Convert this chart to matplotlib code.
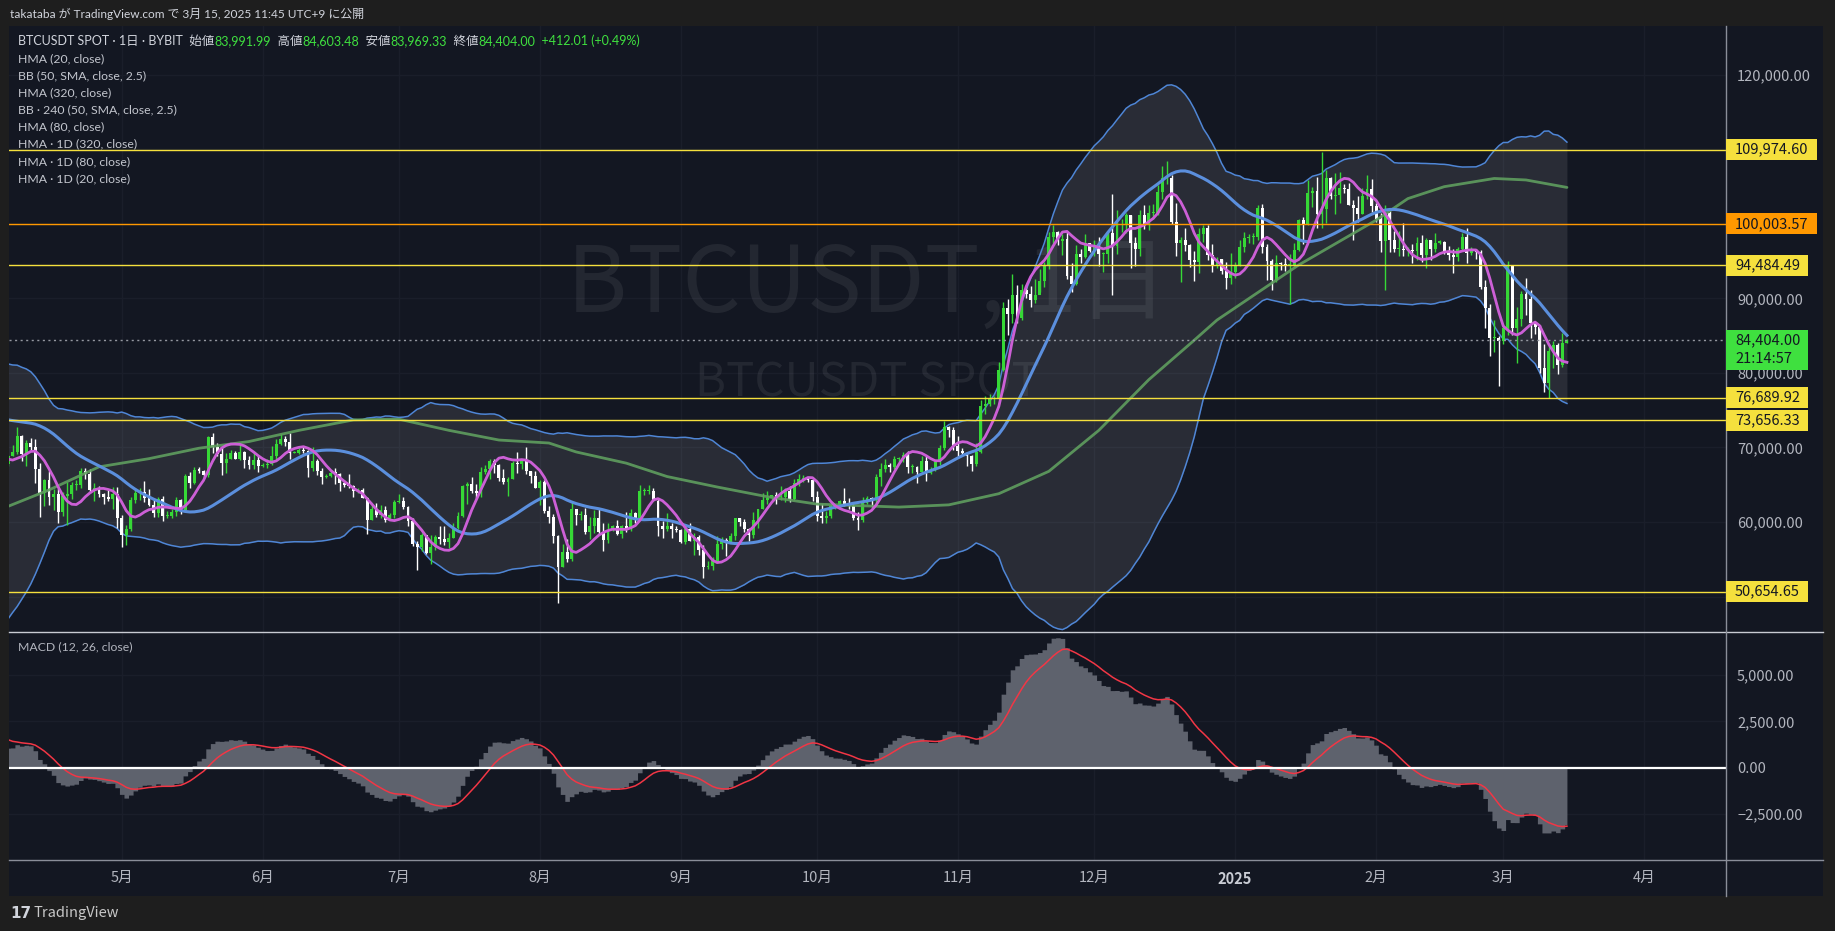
import numpy as np
import pandas as pd
import matplotlib
matplotlib.use('Agg')
import matplotlib.pyplot as plt
from matplotlib.patches import Rectangle
from matplotlib.lines import Line2D
from matplotlib.transforms import blended_transform_factory

W, H = 1835, 931
plt.rcParams['font.family'] = ['Noto Sans CJK JP', 'DejaVu Sans']
LEG_FONT = ['Lato', 'Noto Sans CJK JP', 'DejaVu Sans']

# ---------------------------------------------------------------- data
ORIGIN = '2024-05-01'          # x = days since this date
# history before the first visible candle (closes, thousand USD) - used only to warm up indicators
LEAD_START = '2024-01-08'
LEAD_CLOSE = [
    47.0, 46.1, 46.6, 46.3, 42.8, 42.8, 41.7, 42.5, 43.1, 42.7, 41.3, 41.6, 41.7, 41.6, 39.5, 39.9,
    40.1, 39.9, 41.8, 42.1, 42.0, 43.3, 42.9, 42.6,
    43.1, 43.2, 43.0, 42.6, 42.7, 43.1, 44.3, 45.3, 47.1, 47.8, 48.3, 50.0, 49.7, 51.8, 51.9, 52.1,
    51.6, 52.1, 51.8, 52.3, 51.9, 51.3, 50.7, 51.6, 51.7, 54.5, 57.1, 62.5, 61.2,
    62.4, 62.0, 63.1, 68.3, 63.8, 66.1, 66.9, 68.3, 68.5, 69.0, 72.1, 71.5, 73.1, 71.4, 69.5, 65.3,
    68.4, 67.6, 62.0, 67.9, 65.5, 63.8, 64.0, 67.2, 70.0, 69.9, 69.5, 70.8, 70.0, 69.6, 71.3,
    69.7, 65.4, 66.0, 68.5, 67.8]

START = '2024-04-06'           # first visible daily candle
CLOSE = [
    # Apr 6-30
    68.9, 69.4, 71.6, 69.1, 70.6, 70.0, 67.1, 63.9, 65.7, 63.4, 63.8, 61.3, 63.5, 63.8, 64.9, 64.9,
    66.8, 66.4, 64.3, 64.5, 63.8, 63.4, 63.1, 63.8, 60.6,
    # May
    58.3, 59.1, 62.9, 63.9, 64.0, 63.2, 62.3, 61.2, 63.1, 60.8, 60.8, 61.4, 62.9, 61.6, 66.2, 65.2,
    67.0, 66.9, 66.3, 71.4, 70.1, 69.1, 67.9, 68.5, 69.3, 68.5, 69.4, 68.3, 67.6, 68.3, 67.5,
    # Jun
    67.7, 67.8, 68.8, 70.5, 71.1, 70.8, 69.3, 69.3, 69.6, 69.5, 67.3, 68.2, 66.8, 66.0, 66.2, 66.6,
    66.5, 65.2, 64.9, 64.8, 64.1, 64.3, 63.2, 60.3, 61.8, 60.9, 61.6, 60.3, 60.9, 62.7,
    # Jul
    62.8, 62.0, 60.2, 57.0, 56.6, 58.2, 55.8, 56.7, 58.0, 57.7, 57.3, 57.9, 59.2, 60.8, 64.8, 65.1,
    64.1, 63.9, 66.7, 67.1, 68.2, 67.6, 65.9, 65.4, 65.8, 67.9, 67.8, 68.3, 66.8, 66.2, 64.6,
    # Aug
    65.4, 61.5, 60.7, 58.1, 54.0, 56.0, 55.1, 61.7, 60.9, 60.9, 58.7, 59.4, 60.6, 58.7, 57.6, 58.9,
    59.5, 58.4, 59.5, 59.0, 61.2, 60.4, 64.1, 64.2, 64.2, 62.8, 59.4, 59.0, 59.4, 59.1, 58.9,
    # Sep
    57.3, 59.1, 57.5, 58.0, 56.2, 53.9, 54.1, 54.8, 57.0, 57.6, 57.3, 58.1, 60.5, 60.0, 59.1, 58.2,
    60.3, 61.8, 62.9, 63.2, 63.6, 63.3, 63.3, 64.2, 63.1, 65.2, 65.8, 65.9, 65.6, 63.3,
    # Oct
    60.8, 60.6, 60.8, 62.1, 62.1, 62.8, 62.2, 62.1, 60.6, 60.3, 62.5, 63.2, 62.9, 66.0, 67.1, 67.6,
    67.4, 68.4, 68.4, 69.0, 67.4, 67.4, 66.7, 68.2, 66.6, 67.0, 68.0, 69.9, 72.7, 72.3, 70.2,
    # Nov
    69.5, 69.3, 68.8, 67.8, 69.4, 75.6, 75.9, 76.5, 76.7, 80.4, 88.7, 87.9, 90.5, 87.4, 91.1, 90.6,
    89.8, 90.5, 92.3, 94.3, 98.3, 98.9, 97.7, 98.0, 93.0, 91.9, 95.9, 95.6, 97.5, 96.4,
    # Dec
    97.2, 95.9, 96.0, 98.8, 97.0, 99.9, 99.9, 101.2, 97.4, 96.7, 101.2, 100.0, 101.4, 101.4, 104.3, 106.1,
    106.1, 100.2, 97.5, 97.8, 97.2, 95.2, 94.9, 98.7, 99.4, 95.8, 94.3, 95.3, 93.7, 92.8, 93.6,
    # Jan 2025
    94.4, 96.9, 98.1, 98.2, 98.3, 102.1, 96.9, 95.0, 92.5, 94.7, 94.6, 94.5, 94.5, 96.5, 100.5, 99.9,
    104.1, 104.4, 101.3, 102.0, 106.1, 103.7, 103.9, 104.8, 104.7, 102.6, 102.1, 101.3, 103.7, 104.7, 102.4,
    # Feb
    100.6, 97.7, 101.4, 97.9, 96.6, 96.6, 96.5, 96.5, 96.4, 97.4, 95.8, 97.9, 96.6, 97.5, 97.6, 96.1,
    95.8, 95.5, 96.6, 98.3, 96.1, 96.5, 96.3, 91.5, 88.7, 84.7, 84.7, 84.3,
    # Mar 1-15
    86.1, 94.3, 86.1, 87.2, 90.6, 89.9, 86.7, 86.2, 80.7, 78.6, 82.9, 83.7, 81.1, 83.99199, 84.404]

HIGH = [
    69.0, 70.3, 72.7, 71.7, 71.0, 71.3, 71.2, 67.9, 65.8, 66.9, 64.4, 64.5, 64.0, 65.4, 65.4, 65.7,
    67.2, 67.2, 67.1, 65.3, 64.8, 63.9, 64.3, 64.7, 64.7,
    60.9, 59.6, 63.3, 64.5, 64.6, 65.5, 64.4, 62.9, 63.4, 63.5, 61.5, 61.8, 63.4, 63.1, 66.4, 66.7,
    67.4, 67.4, 67.0, 71.5, 71.9, 70.6, 70.0, 69.2, 69.6, 69.5, 70.6, 69.5, 68.9, 69.5, 69.0,
    67.9, 68.4, 70.2, 71.1, 71.8, 71.6, 71.9, 69.5, 69.9, 70.2, 69.6, 70.0, 68.4, 67.3, 66.4, 66.9,
    67.3, 66.6, 65.7, 66.4, 65.0, 64.5, 64.5, 63.4, 62.3, 62.5, 62.3, 62.2, 61.2, 63.0,
    63.8, 63.3, 62.2, 60.5, 57.5, 58.5, 58.3, 58.2, 58.3, 59.4, 59.4, 58.5, 59.8, 61.4, 64.9, 65.4,
    66.1, 65.1, 67.4, 67.6, 68.4, 68.5, 67.8, 67.1, 66.1, 68.2, 69.4, 68.3, 70.0, 66.9, 66.8,
    65.6, 65.6, 62.2, 61.1, 58.3, 57.1, 57.7, 62.7, 61.7, 61.5, 61.9, 60.7, 61.6, 61.8, 59.9, 59.8,
    59.6, 60.3, 59.6, 61.4, 61.8, 61.4, 64.9, 64.5, 65.0, 64.5, 63.2, 60.2, 61.2, 59.9, 59.4,
    59.0, 59.4, 59.8, 58.5, 58.3, 56.9, 54.8, 55.3, 58.1, 58.0, 57.9, 58.5, 60.6, 60.5, 60.4, 59.2,
    61.3, 61.8, 63.9, 64.1, 63.6, 64.0, 64.8, 64.5, 64.8, 65.8, 66.5, 66.3, 66.1, 65.6,
    64.1, 62.4, 61.5, 62.5, 62.4, 62.9, 64.5, 63.2, 62.5, 61.3, 63.4, 63.5, 63.3, 66.5, 67.9, 68.4,
    67.9, 68.9, 68.7, 69.4, 69.5, 67.8, 67.5, 68.8, 68.8, 67.4, 68.3, 70.3, 73.6, 72.9, 72.7,
    71.6, 69.9, 69.4, 69.0, 70.6, 76.4, 76.9, 77.2, 76.9, 81.5, 89.5, 89.9, 93.3, 91.8, 91.9, 91.8,
    91.7, 92.6, 94.0, 94.9, 98.9, 99.8, 99.0, 98.6, 98.9, 94.7, 97.2, 96.6, 98.7, 97.5,
    97.9, 98.2, 96.3, 99.0, 104.0, 101.9, 100.6, 101.4, 101.2, 98.3, 101.9, 102.5, 102.6, 102.7, 105.2, 107.8,
    108.4, 106.5, 102.8, 98.2, 99.5, 97.3, 96.4, 99.4, 99.9, 99.9, 97.3, 95.5, 95.3, 94.9, 96.1,
    94.9, 97.8, 98.9, 98.7, 98.8, 102.5, 102.7, 97.3, 95.3, 95.8, 94.9, 95.4, 95.9, 97.4, 100.7, 100.9,
    105.9, 104.9, 106.3, 109.6, 107.2, 106.3, 106.8, 107.0, 105.3, 105.5, 103.2, 103.8, 104.8, 106.5, 106.0,
    102.8, 101.5, 102.5, 101.7, 99.0, 99.0, 100.1, 96.9, 97.3, 98.3, 98.5, 98.1, 97.9, 98.8, 97.9, 97.7,
    97.0, 96.7, 96.9, 98.8, 99.5, 96.9, 96.7, 96.5, 92.5, 89.3, 87.1, 85.0,
    86.6, 95.0, 94.4, 88.9, 91.0, 92.8, 91.2, 86.9, 86.5, 83.9, 83.6, 84.3, 84.0, 85.3, 84.60348]

LOW = [
    67.5, 68.8, 69.1, 68.2, 67.5, 69.6, 65.3, 60.7, 62.2, 62.3, 61.6, 59.8, 60.8, 59.6, 63.1, 64.3,
    64.5, 65.8, 63.9, 62.8, 63.3, 62.4, 62.8, 61.8, 59.2,
    56.6, 56.9, 58.8, 62.6, 62.9, 62.7, 62.2, 60.7, 60.7, 60.2, 60.5, 60.6, 60.8, 61.1, 61.3, 64.6,
    65.1, 66.6, 65.9, 66.1, 69.2, 68.9, 66.3, 66.6, 68.5, 68.4, 68.3, 67.3, 67.1, 67.1, 66.7,
    67.4, 67.3, 67.6, 68.5, 70.4, 70.2, 68.5, 69.2, 69.1, 69.2, 66.1, 66.9, 66.3, 65.1, 65.9, 66.0,
    65.1, 64.1, 64.7, 64.5, 63.4, 63.9, 63.2, 58.4, 60.3, 60.7, 60.6, 60.0, 60.3, 60.6,
    62.5, 61.8, 59.4, 56.8, 53.5, 56.1, 55.7, 54.3, 56.3, 57.1, 56.9, 56.5, 57.8, 59.1, 60.7, 62.4,
    63.9, 63.2, 63.3, 66.5, 65.8, 66.6, 65.5, 65.1, 63.5, 65.8, 66.6, 67.1, 66.5, 65.3, 64.5,
    62.3, 61.2, 59.9, 57.2, 49.1, 54.0, 54.6, 54.8, 59.6, 60.3, 58.4, 57.7, 58.5, 58.4, 56.1, 57.2,
    58.8, 58.3, 57.9, 58.6, 58.8, 59.8, 60.4, 63.6, 63.8, 62.8, 58.1, 57.9, 58.8, 57.8, 58.7,
    57.2, 57.1, 57.4, 55.6, 55.6, 52.5, 53.7, 53.6, 54.6, 56.4, 55.5, 57.3, 57.6, 59.5, 58.7, 57.5,
    57.9, 59.2, 61.7, 62.4, 62.8, 62.4, 62.9, 62.7, 62.7, 62.9, 64.8, 65.4, 65.4, 62.8,
    60.2, 59.9, 59.9, 60.5, 61.7, 61.8, 62.2, 61.8, 60.3, 58.9, 60.0, 62.4, 62.0, 62.4, 64.8, 66.7,
    66.7, 67.1, 68.0, 68.1, 66.6, 66.6, 65.3, 66.4, 65.5, 66.5, 66.8, 67.6, 69.7, 71.4, 69.7,
    68.8, 69.0, 67.5, 66.8, 67.5, 69.3, 74.5, 75.6, 75.8, 76.5, 80.2, 85.1, 86.7, 86.7, 87.1, 90.1,
    88.9, 89.4, 90.9, 91.6, 94.0, 97.2, 97.2, 95.8, 92.6, 90.8, 91.8, 94.7, 95.4, 96.2,
    95.7, 94.4, 93.5, 94.7, 90.5, 95.9, 98.9, 98.8, 94.1, 94.3, 95.7, 99.3, 99.2, 100.6, 101.2, 103.3,
    105.3, 100.0, 95.7, 92.2, 96.4, 94.2, 92.4, 93.4, 97.6, 95.2, 93.5, 94.1, 93.3, 91.3, 92.0,
    92.8, 94.4, 96.2, 97.5, 97.3, 97.9, 96.1, 92.5, 91.2, 92.2, 93.8, 93.7, 89.3, 94.3, 96.4, 97.3,
    99.9, 102.3, 99.5, 99.5, 100.1, 103.3, 101.3, 102.8, 104.1, 102.5, 97.8, 100.3, 101.3, 103.3, 101.6,
    100.3, 96.2, 91.2, 96.2, 96.2, 95.7, 95.7, 95.7, 94.7, 95.2, 94.9, 94.1, 95.2, 96.3, 97.3, 96.0,
    95.2, 93.4, 95.0, 96.4, 94.8, 95.8, 95.3, 91.3, 86.0, 82.3, 82.8, 78.3,
    83.9, 85.1, 85.1, 81.4, 86.3, 87.8, 84.7, 85.2, 80.0, 77.5, 76.6, 80.6, 79.9, 80.8, 83.96933]

# slow HMA (320) at a few dates (thousand USD)
GREEN_DATES = ['2024-04-06', '2024-04-15', '2024-04-26', '2024-05-07', '2024-05-18', '2024-05-29',
               '2024-06-09', '2024-06-21', '2024-07-01', '2024-07-12', '2024-07-23', '2024-08-03',
               '2024-08-09', '2024-08-20', '2024-08-29', '2024-09-09', '2024-09-20', '2024-10-01',
               '2024-10-19', '2024-10-30', '2024-11-10', '2024-11-21', '2024-12-02', '2024-12-13',
               '2024-12-23', '2024-12-28', '2025-01-15', '2025-02-01', '2025-02-08', '2025-02-16',
               '2025-02-27', '2025-03-06', '2025-03-15']
GREEN_VALS = [62.1, 64.3, 67.4, 68.5, 69.9, 70.8, 72.3, 73.7, 73.8, 72.3, 71.0, 70.6,
              69.4, 67.9, 66.1, 64.7, 63.4, 62.4, 62.0, 62.3, 63.8, 66.8, 72.3, 79.1,
              84.4, 87.1, 94.5, 100.5, 103.4, 105.0, 106.1, 105.9, 104.9]

LEVELS = [109974.60, 100003.57, 94484.49, 76689.92, 73656.33, 50654.65]
LEVEL_COLORS = ['#f5e03d', '#ff9800', '#f5e03d', '#f5e03d', '#f5e03d', '#f5e03d']
COUNTDOWN = '21:14:57'

PRICE_TICKS = [60000, 70000, 80000, 90000, 120000]
GRID_PRICES = [50000, 60000, 70000, 80000, 90000, 100000, 110000, 120000]
MACD_TICKS = [-2500, 0, 2500, 5000]
MONTH_DATES = ['2024-05-01', '2024-06-01', '2024-07-01', '2024-08-01', '2024-09-01', '2024-10-01',
               '2024-11-01', '2024-12-01', '2025-01-01', '2025-02-01', '2025-03-01', '2025-04-01']
MONTH_LABELS = ['5月', '6月', '7月', '8月', '9月', '10月', '11月', '12月', '2025', '2月', '3月', '4月']

HEADER = 'takataba が TradingView.com で 3月 15, 2025 11:45 UTC+9 に公開'
SYMBOL = 'BTCUSDT SPOT · 1日 · BYBIT'
LEGEND_LINES = ['HMA (20, close)', 'BB (50, SMA, close, 2.5)', 'HMA (320, close)',
                'BB · 240 (50, SMA, close, 2.5)', 'HMA (80, close)', 'HMA · 1D (320, close)',
                'HMA · 1D (80, close)', 'HMA · 1D (20, close)']

# ---------------------------------------------------------------- colours
BG = '#131722'
FRAME = '#1e1e1e'
UP = '#36d836'
DOWN = '#ffffff'
TXT = '#d1d4dc'
AXTXT = '#b2b5be'
VALGREEN = '#3fe03f'

# ---------------------------------------------------------------- indicators
def wma(a, n):
    w = np.arange(1, n + 1, dtype=float)
    out = np.full(len(a), np.nan)
    for i in range(n - 1, len(a)):
        out[i] = np.dot(a[i - n + 1:i + 1], w) / w.sum()
    return out


def hma(a, n):
    raw = 2 * wma(a, n // 2) - wma(a, n)
    return wma(raw, int(np.sqrt(n)))


origin = pd.Timestamp(ORIGIN)
lead = np.array(LEAD_CLOSE) * 1000
close = np.array(CLOSE) * 1000
high = np.array(HIGH) * 1000
low = np.array(LOW) * 1000
opn = np.concatenate([[lead[-1]], close[:-1]])
nl = len(lead)
allc = np.concatenate([lead, close])
x = (pd.Timestamp(START) - origin).days + np.arange(len(close))

s = pd.Series(allc)
bb_mid = s.rolling(50).mean()
bb_sd = s.rolling(50).std(ddof=0)
bb_up = (bb_mid + 2.5 * bb_sd).values[nl:]
bb_lo = (bb_mid - 2.5 * bb_sd).values[nl:]
hma20 = hma(allc, 20)[nl:]
hma80 = hma(allc, 80)[nl:]
ema12 = s.ewm(span=12, adjust=False).mean()
ema26 = s.ewm(span=26, adjust=False).mean()
macd = (ema12 - ema26)
signal = macd.ewm(span=9, adjust=False).mean()
macd = macd.values[nl:]
signal = signal.values[nl:]

gx = np.array([(pd.Timestamp(d) - origin).days for d in GREEN_DATES])
gy = np.array(GREEN_VALS) * 1000

# ---------------------------------------------------------------- figure
fig = plt.figure(figsize=(W / 100, H / 100), dpi=100, facecolor=FRAME)
fig.patches.append(Rectangle((9 / W, 35 / H), (1823 - 9) / W, (896 - 26) / H,
                             transform=fig.transFigure, fc=BG, ec='none', zorder=-10))

AXL, AXR = 9, 1726
MAIN_T, MAIN_B, MACD_B = 26, 632, 860
ax = fig.add_axes([AXL / W, (H - MAIN_B) / H, (AXR - AXL) / W, (MAIN_B - MAIN_T) / H])
ax2 = fig.add_axes([AXL / W, (H - MACD_B) / H, (AXR - AXL) / W, (MACD_B - MAIN_B) / H], sharex=ax)
for a in (ax, ax2):
    a.set_facecolor('none')
    for sp in a.spines.values():
        sp.set_visible(False)

XMIN, XMAX = -24.8, 353.0
YMIN, YMAX = 45238, 126562
ax.set_xlim(XMIN, XMAX)
ax.set_ylim(YMIN, YMAX)
ax2.set_ylim(-4989, 7335)

month_x = [(pd.Timestamp(d) - origin).days for d in MONTH_DATES]

# faint grid
for a in (ax, ax2):
    for mx in month_x:
        a.axvline(mx, color='#1a1e2a', lw=1, zorder=0.2)
for p in GRID_PRICES:
    ax.axhline(p, color='#1a1e2a', lw=1, zorder=0.2)
for p in MACD_TICKS:
    ax2.axhline(p, color='#1a1e2a', lw=1, zorder=0.2)

# watermark
ax.text(0.50, 0.57, 'BTCUSDT, 1日', transform=ax.transAxes, ha='center', va='center',
        fontsize=66, color='white', alpha=0.07, zorder=0.5)
ax.text(0.50, 0.41, 'BTCUSDT SPOT', transform=ax.transAxes, ha='center', va='center',
        fontsize=34, color='white', alpha=0.07, zorder=0.5)

# Bollinger band
ax.fill_between(x, bb_lo, bb_up, color='white', alpha=0.095, lw=0, zorder=1)
ax.plot(x, bb_up, color='#4f86d6', lw=1.1, zorder=2)
ax.plot(x, bb_lo, color='#4f86d6', lw=1.1, zorder=2)

# candles
up = close >= opn
colors = np.where(up, UP, DOWN)
ax.vlines(x, low, high, colors=colors, lw=1.0, zorder=3)
body_lo = np.minimum(opn, close)
body_h = np.maximum(np.abs(close - opn), 150)
ax.bar(x, body_h, bottom=body_lo, width=0.64, color=colors, lw=0, zorder=4)

# moving averages
ax.plot(gx, gy, color='#5f9e5f', lw=2.0, alpha=0.9, zorder=5, solid_capstyle='round',
        solid_joinstyle='round')
ax.plot(x, hma80, color='#5b8fdd', lw=2.2, zorder=5.5)
ax.plot(x, hma20, color='#cc5fd6', lw=2.0, zorder=6)

# horizontal levels
for lv, c in zip(LEVELS, LEVEL_COLORS):
    ax.axhline(lv, color=c, lw=1.0, zorder=7)
ax.axhline(close[-1], color='#9598a1', lw=1.0, ls=(0, (1.5, 2.5)), zorder=7)

# price axis
ax.yaxis.tick_right()
ax.set_yticks(PRICE_TICKS)
ax.set_yticklabels([f'{p:,.2f}' for p in PRICE_TICKS])
ax.tick_params(axis='y', length=0, pad=8, labelsize=10.5, labelcolor=AXTXT)
ax.tick_params(axis='x', length=0, labelbottom=False)

# MACD pane
ax2.fill_between(x, 0, macd, step='mid', color='#5e626d', lw=0, zorder=2)
ax2.plot(x, signal, color='#f23645', lw=1.1, zorder=3)
ax2.axhline(0, color='white', lw=1.6, zorder=4)
ax2.yaxis.tick_right()
ax2.set_yticks(MACD_TICKS)
ax2.set_yticklabels([f'{v:,.2f}'.replace('-', '−') for v in MACD_TICKS])
ax2.tick_params(axis='y', length=0, pad=8, labelsize=10.5, labelcolor=AXTXT)
ax2.set_xticks(month_x)
ax2.set_xticklabels(MONTH_LABELS)
ax2.tick_params(axis='x', length=0, pad=8, labelsize=10.5, labelcolor=AXTXT)
for lab in ax2.get_xticklabels():
    if lab.get_text() == '2025':
        lab.set_fontweight('bold')
        lab.set_color('#c9ccd4')
ax2.text(9 / (AXR - AXL), 1 - 15 / (MACD_B - MAIN_B), 'MACD (12, 26, close)', transform=ax2.transAxes,
         ha='left', va='center', fontsize=8.8, color=AXTXT, family=LEG_FONT)

# separators
fig.lines.append(Line2D([9 / W, 1823 / W], [(H - MAIN_B) / H] * 2, transform=fig.transFigure,
                        color='#c8cbd3', lw=1.0, zorder=8))
fig.lines.append(Line2D([9 / W, 1823 / W], [(H - MACD_B) / H] * 2, transform=fig.transFigure,
                        color='#8a8e99', lw=1.0, zorder=8))
fig.lines.append(Line2D([AXR / W] * 2, [(H - 896) / H, (H - 26) / H], transform=fig.transFigure,
                        color='#8a8e99', lw=1.0, zorder=8))

# header / footer
fig.text(10 / W, 1 - 14 / H, HEADER, fontsize=8.6, color=TXT, va='center', ha='left', family=LEG_FONT)
fig.text(10 / W, 1 - 913 / H, '17', fontsize=11, color='#d1d4dc', va='center', ha='left',
         fontweight='bold', family='DejaVu Sans')
fig.text(33 / W, 1 - 913 / H, 'TradingView', fontsize=10.5, color='#c8c8c8', va='center', ha='left')

# legend
o_l, h_l, l_l, c_l = opn[-1], high[-1], low[-1], close[-1]
chg = c_l - opn[-1]
pct = chg / opn[-1] * 100
pieces = [(SYMBOL + '  始値', TXT), (f'{o_l:,.2f}', VALGREEN), ('  高値', TXT), (f'{h_l:,.2f}', VALGREEN),
          ('  安値', TXT), (f'{l_l:,.2f}', VALGREEN), ('  終値', TXT), (f'{c_l:,.2f}', VALGREEN),
          (f'  {chg:+,.2f} ({pct:+.2f}%)', VALGREEN)]
prev = None
for txt, col in pieces:
    if prev is None:
        prev = ax.annotate(txt, xy=(18, H - 41), xycoords='figure pixels', va='center', ha='left',
                           fontsize=9.0, color=col, zorder=30, annotation_clip=False, family=LEG_FONT)
    else:
        prev = ax.annotate(txt, xy=(1, 0), xycoords=prev, va='bottom', ha='left',
                           fontsize=9.0, color=col, zorder=30, annotation_clip=False, family=LEG_FONT)
for i, line in enumerate(LEGEND_LINES):
    fig.text(18 / W, 1 - (58.5 + i * 17.15) / H, line, fontsize=8.8, color='#c3c6ce', va='center',
             ha='left', family=LEG_FONT)

# price tags on the axis
trans = blended_transform_factory(ax.transAxes, ax.transData)
px_per_usd = (MAIN_B - MAIN_T) / (YMAX - YMIN)
tx = 1 + 9 / (AXR - AXL)
tags = []
for lv, c in zip(LEVELS, LEVEL_COLORS):
    t = fig.text(tx, lv, f'{lv:,.2f}', transform=trans, ha='left', va='center',
                 fontsize=10.5, color='#131722', zorder=21)
    tags.append((t, c, lv + 10.5 / px_per_usd, lv - 10.5 / px_per_usd))
t1 = fig.text(tx, close[-1], f'{close[-1]:,.2f}', transform=trans, ha='left', va='center',
              fontsize=10.5, color='#131722', zorder=21)
fig.text(tx, close[-1] - 19 / px_per_usd, COUNTDOWN, transform=trans, ha='left', va='center',
         fontsize=10.5, color='#131722', zorder=21)
tags.append((t1, '#3fe03f', close[-1] + 10.5 / px_per_usd, close[-1] - 30 / px_per_usd))

fig.canvas.draw()
r = fig.canvas.get_renderer()
for t, c, ytop, ybot in tags:
    bb = t.get_window_extent(r)
    x1 = bb.x1 + 8
    y_top = ax.transData.transform((0, ytop))[1]
    y_bot = ax.transData.transform((0, ybot))[1]
    fig.patches.append(Rectangle((AXR / W, y_bot / H), (x1 - AXR) / W, (y_top - y_bot) / H,
                                 transform=fig.transFigure, fc=c, ec='none', zorder=20))

fig.savefig('out.png', dpi=100, facecolor=fig.get_facecolor())
